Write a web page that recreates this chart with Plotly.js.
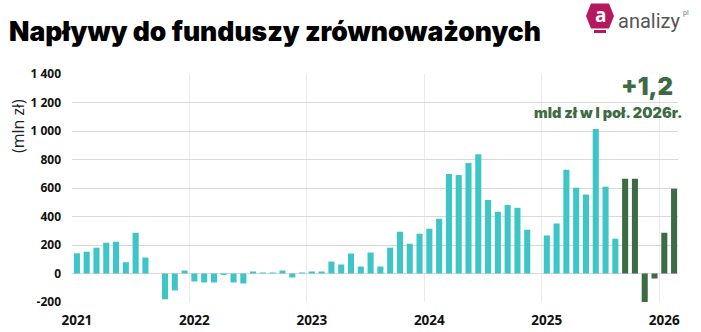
<!DOCTYPE html>
<html>
<head>
<meta charset="utf-8">
<script src="https://cdn.plot.ly/plotly-3.0.1.min.js"></script>
<style>html,body{margin:0;padding:0;background:#fff;}#chart{width:701px;height:332px;}</style>
</head>
<body>
<div id="chart"></div>
<script>
// ---- data (mln zł, monthly net flows) ----
const months = [
  "2021-01","2021-02","2021-03","2021-04","2021-05","2021-06","2021-07","2021-08","2021-09","2021-10","2021-11","2021-12",
  "2022-01","2022-02","2022-03","2022-04","2022-05","2022-06","2022-07","2022-08","2022-09","2022-10","2022-11","2022-12",
  "2023-01","2023-02","2023-03","2023-04","2023-05","2023-06","2023-07","2023-08","2023-09","2023-10","2023-11","2023-12",
  "2024-01","2024-02","2024-03","2024-04","2024-05","2024-06","2024-07","2024-08","2024-09","2024-10","2024-11","2024-12",
  "2025-01","2025-02","2025-03","2025-04","2025-05","2025-06","2025-07","2025-08",
  "2025-09","2025-10","2025-11","2025-12","2026-01","2026-02"
];
const flowsEarlier = [
  142, 153, 181, 216, 223, 79, 286, 112, null, -181, -119, 21,
  -56, -63, -63, -10, -63, -70, 14, 7, 7, 21, -28, 7,
  14, 14, 84, 63, 140, 49, 147, 49, 181, 293, 209, 279,
  314, 384, 698, 691, 775, 837, 516, 433, 481, 461, 307, null,
  267, 351, 728, 602, 554, 1014, 609, 244
];
const flowsRecent = [665, 665, -205, -35, 286, 595];
const yearTicks = ["2021-01","2022-01","2023-01","2024-01","2025-01","2026-01"];
const yearLabels = ["2021","2022","2023","2024","2025","2026"];
const yTickVals = [-200, 0, 200, 400, 600, 800, 1000, 1200, 1400];
const yTickText = ["-200","0","200","400","600","800","1 000","1 200","1 400"];

const nEarlier = flowsEarlier.length;
const monthPos = months.map((m, i) => i);           // month slot on the axis
const yearPos = yearTicks.map(m => months.indexOf(m));
const teal = "#3ec5c6", green = "#3d6b44";

// ---- layout helpers ----
const W = 701, H = 332, ML = 72, MR = 23, MT = 74, MB = 30;
const PW = W - ML - MR, PH = H - MT - MB;
const px = X => (X - ML) / PW;
const py = Y => (H - MB - Y) / PH;

const traces = [
  {type: "bar", x: monthPos.slice(0, nEarlier), y: flowsEarlier, text: months.slice(0, nEarlier),
   marker: {color: teal}, width: 0.62, hoverinfo: "text+y"},
  {type: "bar", x: monthPos.slice(nEarlier), y: flowsRecent, text: months.slice(nEarlier),
   marker: {color: green}, width: 0.62, hoverinfo: "text+y"}
];
traces.forEach(t => { t.textposition = "none"; });

const hex = [[591,3.5],[609,3.5],[614,16],[609,28.5],[591,28.5],[586,16]];
const hexPath = "M" + hex.map(p => px(p[0]) + "," + py(p[1])).join(" L") + " Z";

const layout = {
  width: W, height: H,
  margin: {l: ML, r: MR, t: MT, b: MB, pad: 0},
  paper_bgcolor: "#fff", plot_bgcolor: "#fff",
  showlegend: false,
  barmode: "overlay",
  font: {family: "Open Sans, sans-serif", color: "#111"},
  title: {
    text: "Napływy do funduszy zrównoważonych",
    x: 9 / W, xanchor: "left", xref: "container",
    y: 1 - 32 / H, yanchor: "middle", yref: "container",
    font: {family: "Inter, sans-serif", size: 26.5, weight: 900, color: "#000"}
  },
  xaxis: {
    type: "linear",
    range: [-0.5, months.length - 0.6],
    tickmode: "array", tickvals: yearPos, ticktext: yearLabels,
    tickangle: 0,
    showgrid: false,
    minor: {tickmode: "array", tickvals: yearPos.map(v => v - 0.5), showgrid: true,
            gridcolor: "#ececec", gridwidth: 1, ticks: ""},
    ticks: "", showline: false, zeroline: false,
    ticklabelstandoff: 8,
    tickfont: {family: "Open Sans, sans-serif", size: 13.5, weight: 700, color: "#111"}
  },
  yaxis: {
    range: [-200, 1400],
    tickmode: "array", tickvals: yTickVals, ticktext: yTickText,
    showgrid: true, gridcolor: "#d9d9d9", gridwidth: 1,
    zeroline: true, zerolinecolor: "#d9d9d9", zerolinewidth: 1,
    ticks: "", showline: false,
    ticklabelstandoff: 10,
    tickfont: {family: "Open Sans, sans-serif", size: 12, weight: 700, color: "#111"}
  },
  shapes: [
    {type: "path", xref: "paper", yref: "paper", path: hexPath, fillcolor: "#b5185e", line: {width: 0}},
    {type: "rect", xref: "paper", yref: "paper", x0: px(594), x1: px(606), y0: py(33), y1: py(30), fillcolor: "#b5185e", line: {width: 0}}
  ],
  annotations: [
    {text: "(mln zł)", xref: "paper", yref: "paper", x: px(18), y: py(126), textangle: -90,
     xanchor: "center", yanchor: "middle", showarrow: false,
     font: {family: "Open Sans, sans-serif", size: 16, color: "#222"}},
    {text: "+1,2", xref: "paper", yref: "paper", x: px(675), y: py(86),
     xanchor: "right", yanchor: "middle", showarrow: false,
     font: {family: "Inter, sans-serif", size: 24, weight: 900, color: green}},
    {text: "mld zł w I poł. 2026r.", xref: "paper", yref: "paper", x: px(684), y: py(112),
     xanchor: "right", yanchor: "middle", showarrow: false,
     font: {family: "Inter, sans-serif", size: 14.5, weight: 900, color: green}},
    {text: "a", xref: "paper", yref: "paper", x: px(600), y: py(15),
     xanchor: "center", yanchor: "middle", showarrow: false,
     font: {family: "Open Sans, sans-serif", size: 19, weight: 700, color: "#fff"}},
    {text: "analizy", xref: "paper", yref: "paper", x: px(616), y: py(21),
     xanchor: "left", yanchor: "middle", showarrow: false,
     font: {family: "Roboto, sans-serif", size: 20, color: "#555"}},
    {text: "pl", xref: "paper", yref: "paper", x: px(681), y: py(13),
     xanchor: "left", yanchor: "middle", showarrow: false,
     font: {family: "Roboto, sans-serif", size: 7, color: "#777"}}
  ]
};

Plotly.newPlot("chart", traces, layout, {displayModeBar: false, staticPlot: true});
</script>
</body>
</html>
